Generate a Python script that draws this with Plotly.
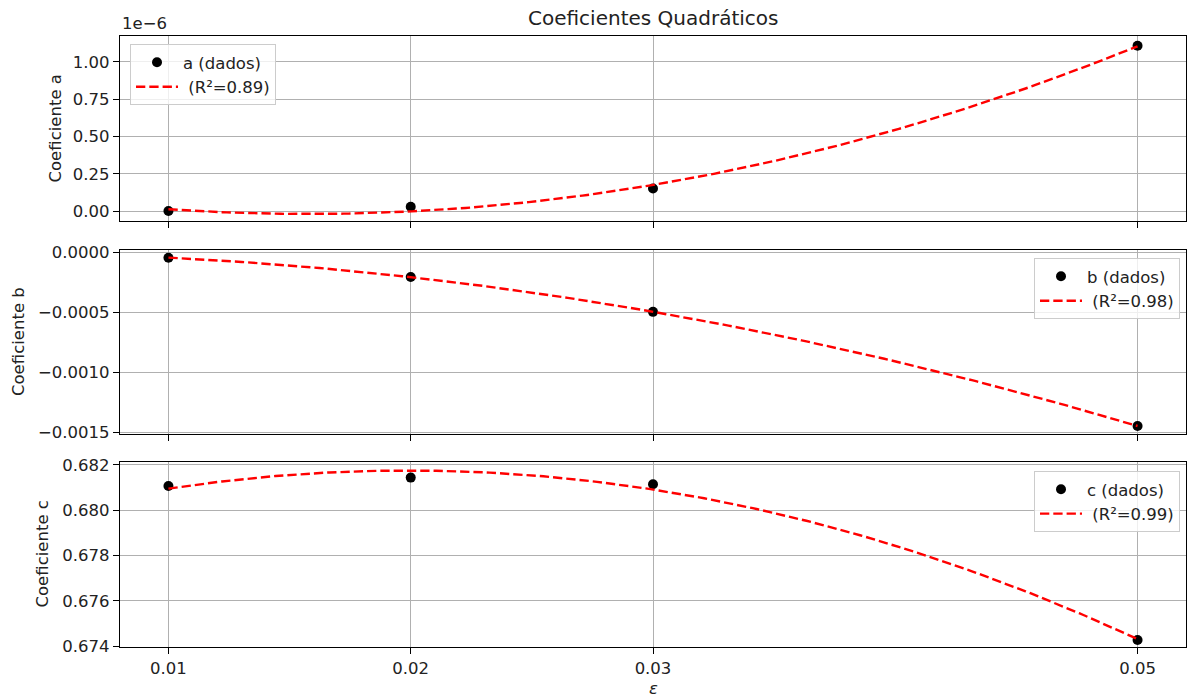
import numpy as np
import plotly.graph_objects as go

# strain levels and the quadratic coefficients estimated at each level
eps = [0.01, 0.02, 0.03, 0.05]
coef_a = [0.000e-6, 0.029e-6, 0.151e-6, 1.109e-6]
coef_b = [-0.0000417, -0.000203, -0.000494, -0.001447]
coef_c = [0.68107, 0.68144, 0.68115, 0.67427]

r2_labels = [" (R²=0.89)", " (R²=0.98)", " (R²=0.99)"]
data_labels = ["a (dados)", "b (dados)", "c (dados)"]
y_titles = ["Coeficiente a", "Coeficiente b", "Coeficiente c"]

x_ticks = [0.01, 0.02, 0.03, 0.05]
x_ticktext = ["0.01", "0.02", "0.03", "0.05"]

a_ticks = [0.0, 0.25e-6, 0.5e-6, 0.75e-6, 1.0e-6]
a_ticktext = ["0.00", "0.25", "0.50", "0.75", "1.00"]
b_ticks = [0.0, -0.0005, -0.0010, -0.0015]
c_ticks = [0.674, 0.676, 0.678, 0.680, 0.682]

W, H = 1187, 697
FONT = "DejaVu Sans"
FS = 16.5
TXT = "#222"
x_dom = [120 / W, 1186 / W]
# vertical pixel extents of the three panels (top, bottom)
panels_px = [(36, 221), (250, 434), (462, 647)]
domains = [[1 - b / H, 1 - t / H] for t, b in panels_px]

fig = go.Figure()

x_fit = np.linspace(min(eps), max(eps), 200)
series = [coef_a, coef_b, coef_c]
for i, vals in enumerate(series):
    xa = "x" if i == 0 else f"x{i+1}"
    ya = "y" if i == 0 else f"y{i+1}"
    leg = "legend" if i == 0 else f"legend{i+1}"
    poly = np.polyfit(eps, vals, 2)
    fig.add_trace(go.Scatter(
        x=eps, y=vals, mode="markers", name=data_labels[i],
        marker=dict(color="black", size=10),
        xaxis=xa, yaxis=ya, legend=leg))
    fig.add_trace(go.Scatter(
        x=x_fit, y=np.polyval(poly, x_fit), mode="lines", name=r2_labels[i],
        line=dict(color="red", width=2.4, dash="9.3px,4px"),
        xaxis=xa, yaxis=ya, legend=leg))

x_range = [0.008, 0.052]
y_ranges = [[-0.067e-6, 1.174e-6], [-0.001514, 0.0000225], [0.67396, 0.68213]]

common_axis = dict(
    showline=True, mirror=True, linecolor="black", linewidth=1.2,
    showgrid=True, gridcolor="#b0b0b0", gridwidth=1.1, zeroline=False,
    ticks="outside", ticklen=6, tickcolor="black", tickwidth=1.2,
    tickfont=dict(family=FONT, size=FS, color=TXT), automargin=False)

layout = dict(
    width=W, height=H, margin=dict(l=0, r=0, t=0, b=0),
    paper_bgcolor="white", plot_bgcolor="white",
    font=dict(family=FONT, size=FS, color=TXT),
)

for i in range(3):
    sx = "" if i == 0 else str(i + 1)
    layout[f"xaxis{sx}"] = dict(
        common_axis, domain=x_dom, range=x_range, anchor=f"y{sx}",
        tickvals=x_ticks, ticktext=x_ticktext, showticklabels=(i == 2),
        matches=None if i == 0 else "x")
    ya = dict(common_axis, domain=domains[i], range=y_ranges[i], anchor=f"x{sx}")
    if i == 0:
        ya.update(tickvals=a_ticks, ticktext=a_ticktext)
    elif i == 1:
        ya.update(tickvals=b_ticks, tickformat=".4f")
    else:
        ya.update(tickvals=c_ticks, tickformat=".3f")
    layout[f"yaxis{sx}"] = ya

legend_style = dict(
    bgcolor="rgba(255,255,255,0.8)", bordercolor="#cccccc", borderwidth=1,
    font=dict(family=FONT, size=FS, color=TXT), tracegroupgap=0,
    itemwidth=42)
layout["legend"] = dict(legend_style, x=130 / W, y=1 - 44 / H,
                        xanchor="left", yanchor="top")
layout["legend2"] = dict(legend_style, x=1180 / W, y=1 - 258 / H,
                         xanchor="right", yanchor="top")
layout["legend3"] = dict(legend_style, x=1180 / W, y=1 - 471 / H,
                         xanchor="right", yanchor="top")

fig.update_layout(**layout)

annotations = [
    dict(text="Coeficientes Quadráticos", x=(x_dom[0] + x_dom[1]) / 2,
         y=1 - 18 / H, xref="paper", yref="paper", showarrow=False,
         font=dict(family=FONT, size=20, color=TXT),
         xanchor="center", yanchor="middle"),
    dict(text="1e−6", x=120 / W, y=1 - 24 / H, xref="paper", yref="paper",
         showarrow=False, font=dict(family=FONT, size=FS, color=TXT),
         xanchor="left", yanchor="middle"),
    dict(text="<i>ε</i>", x=(x_dom[0] + x_dom[1]) / 2, y=1 - 688 / H,
         xref="paper", yref="paper", showarrow=False,
         font=dict(family=FONT, size=FS, color=TXT),
         xanchor="center", yanchor="middle"),
]
title_x_px = [55, 18, 42]
for i in range(3):
    t, b = panels_px[i]
    annotations.append(dict(
        text=y_titles[i], x=title_x_px[i] / W, y=1 - (t + b) / 2 / H,
        xref="paper", yref="paper", showarrow=False, textangle=-90,
        font=dict(family=FONT, size=FS, color=TXT),
        xanchor="center", yanchor="middle"))
fig.update_layout(annotations=annotations)

fig.write_html("out.html")
